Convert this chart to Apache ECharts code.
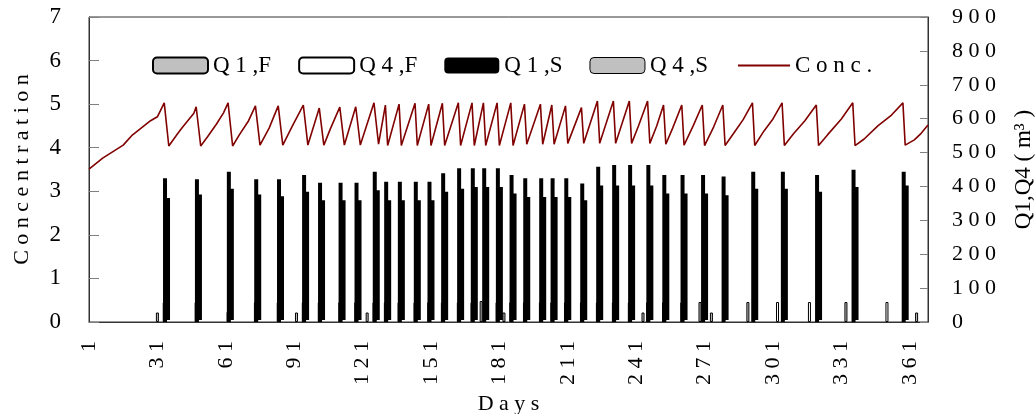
<!DOCTYPE html>
<html>
<head>
<meta charset="utf-8">
<script src="https://cdn.jsdelivr.net/npm/echarts@6/dist/echarts.min.js"></script>
<style>
  html, body { margin: 0; padding: 0; background: #fff; }
  #chart { width: 1035px; height: 414px; }
</style>
</head>
<body>
<div id="chart"></div>
<script>
// ---- data -------------------------------------------------------------
const dayCount = 369;
const days = Array.from({ length: dayCount }, (_, i) => String(i + 1));

// discharge events (day) and the S volumes on those days, m3
const sDays = [35, 49, 63, 75, 85, 96, 103, 112, 119, 127, 132, 138, 145, 151, 157, 164, 170, 175, 181,
               187, 193, 200, 205, 211, 218, 225, 232, 239, 247, 254, 262, 271, 280, 293, 306, 321, 337, 359];
const q1S = [424, 421, 443, 421, 421, 434, 411, 411, 411, 443, 414, 414, 414, 414, 439, 454, 454, 454, 454,
             434, 424, 424, 424, 424, 409, 458, 463, 463, 463, 434, 434, 434, 429, 443, 443, 434, 449, 443];
const q4S = [372, 382, 399, 382, 377, 390, 365, 365, 365, 395, 365, 365, 365, 365, 390, 399, 404, 404, 404,
             385, 375, 375, 375, 375, 365, 409, 409, 409, 409, 385, 385, 385, 380, 399, 399, 390, 404, 409];

// F volumes, m3
const q1FDays = [31, 34, 48, 62, 74, 84, 92, 95, 102, 111, 118, 123, 126, 131, 137, 144, 150, 156, 163, 169,
                 173, 180, 183, 186, 192, 199, 204, 210, 217, 224, 231, 238, 244, 246, 253, 261, 269, 274, 290, 333, 364];
const q1FVals = [28, 58, 58, 30, 58, 58, 28, 58, 58, 58, 58, 28, 58, 58, 58, 58, 58, 58, 58, 58,
                 62, 58, 28, 58, 58, 58, 58, 58, 58, 58, 58, 58, 28, 58, 58, 58, 59, 28, 59, 59, 28];
const q4FDays = [303, 317, 351];
const q4FVals = [59, 59, 59];

// concentration, sampled at the turning points of the curve
const concDays = [1, 7, 16, 20, 28, 31, 34,
  36, 40, 42, 47, 48,
  50, 53, 57, 60, 62,
  64, 67, 71, 74,
  76, 80, 84,
  86, 90, 95,
  97, 102,
  104, 107, 111,
  113, 118,
  120, 126,
  128, 131, 132, 137, 138, 144, 145, 150, 151, 156, 157, 163, 164, 169, 170, 174, 175, 180, 181,
  186, 187, 192, 193, 199, 200, 204, 205, 210, 211, 217, 218, 224, 225, 231, 232, 238, 239,
  242, 246, 247, 250, 253, 254, 257, 261, 262, 266, 270, 271, 275, 279, 280,
  284, 288, 292, 293, 297, 301, 305, 306, 310, 315, 320, 321, 325, 331, 336, 337,
  341, 347, 353, 358, 359, 363, 366, 369];
const concVals = [3.51, 3.76, 4.06, 4.29, 4.62, 4.71, 5.03,
  4.04, 4.33, 4.47, 4.79, 4.94,
  4.04, 4.25, 4.55, 4.80, 5.03,
  4.04, 4.30, 4.62, 4.96,
  4.06, 4.45, 4.96,
  4.06, 4.48, 4.98,
  4.06, 4.91,
  4.06, 4.45, 4.93,
  4.06, 4.94,
  4.06, 5.03,
  4.08, 4.98, 4.05, 5.00, 4.05, 5.02, 4.05, 5.00, 4.05, 5.02, 4.05, 5.03, 4.05, 5.03, 4.05, 5.03, 4.05, 5.03, 4.05,
  5.03, 4.05, 5.00, 4.08, 5.00, 4.08, 4.98, 4.08, 4.96, 4.10, 4.92, 4.10, 5.07, 4.10, 5.07, 4.10, 5.07, 4.10,
  4.50, 5.07, 4.10, 4.50, 4.98, 4.08, 4.45, 4.98, 4.06, 4.50, 4.98, 4.05, 4.48, 4.98, 4.05,
  4.35, 4.65, 5.03, 4.05, 4.38, 4.66, 5.03, 4.05, 4.32, 4.62, 4.98, 4.05, 4.30, 4.66, 5.03, 4.05,
  4.20, 4.50, 4.75, 5.03, 4.06, 4.18, 4.33, 4.52];

const leftMax = 7, leftStep = 1;
const rightMax = 900, rightStep = 100;

// ---- helpers ----------------------------------------------------------
const spaced = s => String(s).split('').join(' ');

function daily(dayList, vals) {
  const out = new Array(dayCount).fill(null);
  dayList.forEach((d, i) => { out[d - 1] = vals[i]; });
  return out;
}

const FONT = 'Liberation Serif';
const AXIS_COLOR = '#333';
const TICK_COLOR = '#808080';
const TEXT = { fontFamily: FONT, fontSize: 22, color: '#000' };
const LEGEND_TEXT = { fontFamily: FONT, fontSize: 23, color: '#000' };

const legendText = {
  'Q1,F': 'Q 1 ,F',
  'Q4,F': 'Q 4 ,F',
  'Q1,S': 'Q 1 ,S',
  'Q4,S': 'Q 4 ,S',
  'Conc.': 'C o n c .'
};

const chart = echarts.init(document.getElementById('chart'), null, { renderer: 'canvas' });

chart.setOption({
  animation: false,
  backgroundColor: '#fff',
  grid: {
    left: 89, right: 107, top: 17, bottom: 92,
    outerBoundsMode: 'none',
    containLabel: false,
    show: true, borderColor: AXIS_COLOR, borderWidth: 1, backgroundColor: 'transparent'
  },
  legend: [{
    left: 152, top: 54, padding: 0,
    itemWidth: 55, itemHeight: 16, itemGap: 27,
    textStyle: LEGEND_TEXT,
    formatter: name => legendText[name],
    data: [
      'Q1,F', 'Q4,F', 'Q1,S',
      { name: 'Q4,S', itemStyle: { borderWidth: 1 } }
    ]
  }, {
    left: 738, top: 54, padding: 0,
    itemWidth: 52, itemHeight: 2,
    textStyle: LEGEND_TEXT,
    formatter: name => legendText[name],
    data: [{ name: 'Conc.', icon: 'rect' }]
  }],
  xAxis: [{
    type: 'category', data: days, boundaryGap: false,
    name: 'D a y s', nameLocation: 'middle', nameGap: 66,
    nameTextStyle: TEXT,
    axisLine: { lineStyle: { color: AXIS_COLOR } },
    axisTick: { show: false },
    axisLabel: {
      interval: 29, rotate: 90, margin: 19,
      fontFamily: FONT, fontSize: 22, color: '#000',
      formatter: v => spaced(v)
    },
    splitLine: { show: false }
  }, {
    type: 'category', data: days, boundaryGap: false, show: false
  }],
  yAxis: [{
    type: 'value', min: 0, max: leftMax, interval: leftStep,
    name: 'C o n c e n t r a t i o n', nameLocation: 'middle', nameRotate: 90, nameGap: 56,
    nameTextStyle: TEXT,
    axisLine: { show: true, lineStyle: { color: AXIS_COLOR } },
    axisTick: { show: true, inside: true, length: 10, lineStyle: { color: TICK_COLOR } },
    axisLabel: { margin: 28, fontFamily: FONT, fontSize: 23, color: '#000' },
    splitLine: { show: false }
  }, {
    type: 'value', min: 0, max: rightMax, interval: rightStep, position: 'right',
    name: 'Q1,Q4 ( m³ )', nameLocation: 'middle', nameRotate: 90, nameGap: 84,
    nameTextStyle: { fontFamily: FONT, fontSize: 23, color: '#000' },
    axisLine: { show: true, lineStyle: { color: AXIS_COLOR } },
    axisTick: { show: true, inside: true, length: 8, lineStyle: { color: TICK_COLOR } },
    axisLabel: { margin: 24, fontFamily: FONT, fontSize: 22, color: '#000', formatter: v => spaced(v) },
    splitLine: { show: false }
  }],
  series: [{
    name: 'Q1,F', type: 'bar', xAxisIndex: 1, yAxisIndex: 1,
    barWidth: 3, barMinWidth: 3, barGap: '-100%',
    itemStyle: { color: '#c0c0c0', borderColor: '#000', borderWidth: 1 },
    data: daily(q1FDays, q1FVals)
  }, {
    name: 'Q4,F', type: 'bar', xAxisIndex: 1, yAxisIndex: 1,
    barWidth: 3, barMinWidth: 3, barGap: '-100%',
    itemStyle: { color: '#fff', borderColor: '#000', borderWidth: 1 },
    data: daily(q4FDays, q4FVals)
  }, {
    name: 'Q1,S', type: 'bar', xAxisIndex: 0, yAxisIndex: 1,
    barWidth: 4, barMinWidth: 4, barGap: '-25%',
    itemStyle: { color: '#000', borderColor: '#000', borderWidth: 0 },
    data: daily(sDays, q1S)
  }, {
    // narrow bars: the outline fills the whole column at this width
    name: 'Q4,S', type: 'bar', xAxisIndex: 0, yAxisIndex: 1,
    barWidth: 4, barMinWidth: 4, barGap: '-25%',
    itemStyle: { color: '#c0c0c0', borderColor: '#000', borderWidth: 4 },
    data: daily(sDays, q4S)
  }, {
    name: 'Conc.', type: 'line', xAxisIndex: 0, yAxisIndex: 0,
    symbol: 'none', z: 5,
    lineStyle: { color: '#800000', width: 1.6 },
    itemStyle: { color: '#800000' },
    data: concDays.map((d, i) => [String(d), concVals[i]])
  }]
});
</script>
</body>
</html>
